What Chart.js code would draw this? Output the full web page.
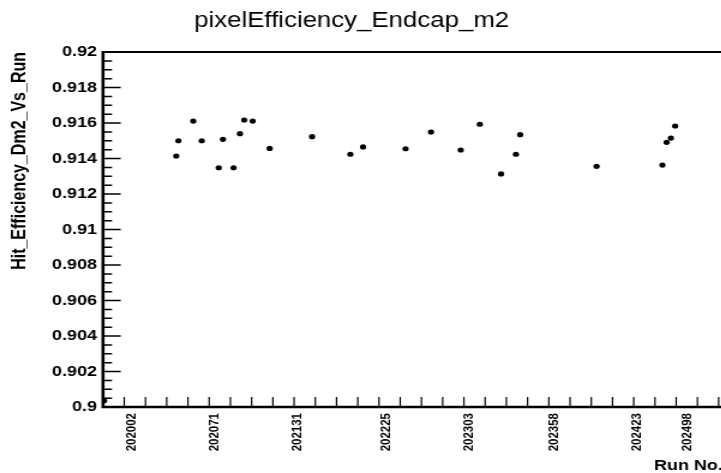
<!DOCTYPE html>
<html>
<head>
<meta charset="utf-8">
<script src="https://cdn.jsdelivr.net/npm/chart.js@4.4.0/dist/chart.umd.min.js"></script>
<style>
  html, body { margin: 0; padding: 0; background: #fff; overflow: hidden; width: 721px; height: 473px; }
  #wrap { position: absolute; left: 0; top: 0; width: 605px; height: 473px; transform: scaleX(1.2); transform-origin: 0 0; }
  canvas { display: block; }
</style>
</head>
<body>
<div id="wrap"><canvas id="c" width="605" height="473" style="width:605px;height:473px"></canvas></div>
<script>
// Run-number labels shown on the x axis and the bin each one belongs to
const runLabels = ['202002', '202071', '202131', '202225', '202303', '202358', '202423', '202498'];
const runLabelBins = [13, 52, 91, 133, 172, 212, 251, 275];

// Bin of each measured run and its hit efficiency
const binIndex = [0, 34, 35, 42, 46, 54, 56, 61, 64, 66, 70, 78, 98, 116, 122, 142, 154, 168, 177, 187, 194, 196, 232, 263, 265, 267, 269];
const efficiency = [0.90035, 0.91414, 0.9150, 0.91611, 0.9150, 0.91348, 0.91508, 0.91348, 0.9154, 0.91617, 0.91611,
                    0.91457, 0.91523, 0.91424, 0.91465, 0.91455, 0.91549, 0.91448, 0.91593, 0.91313, 0.91424,
                    0.91534, 0.91356, 0.91363, 0.91491, 0.91515, 0.91583];

// Labelled y-axis ticks
const yTickValues = [0.9, 0.902, 0.904, 0.906, 0.908, 0.91, 0.912, 0.914, 0.916, 0.918, 0.92];

const totalBins = 292;
const FONT = "'Liberation Sans', Arial, Helvetica, sans-serif";

const points = binIndex.map((b, i) => ({ x: b + 0.5, y: efficiency[i] }));

// ROOT-style frame with inward tick marks
const framePlugin = {
  id: 'frame',
  afterDraw(chart) {
    const { ctx, chartArea: a, scales } = chart;
    const xs = scales.x, ys = scales.y;
    ctx.save();
    ctx.strokeStyle = '#000';
    // x ticks every 10 bins
    ctx.lineWidth = 1.2;
    ctx.beginPath();
    for (let b = 10; b < totalBins; b += 10) {
      const px = xs.getPixelForValue(b);
      ctx.moveTo(px, a.bottom);
      ctx.lineTo(px, a.bottom - 10);
    }
    ctx.stroke();
    // y ticks: major at labels, minor every 0.0005
    ctx.lineWidth = 1.5;
    ctx.beginPath();
    for (let k = 0; k <= 40; k++) {
      const v = 0.9 + k * 0.0005;
      const py = ys.getPixelForValue(v);
      const len = (k % 4 === 0) ? 14.75 : 7.5;
      ctx.moveTo(a.left, py);
      ctx.lineTo(a.left + len, py);
    }
    ctx.stroke();
    // frame
    ctx.lineWidth = 2;
    ctx.beginPath();
    ctx.moveTo(a.left, a.top);
    ctx.lineTo(a.right, a.top);
    ctx.lineTo(a.right, a.bottom);
    ctx.stroke();
    ctx.lineWidth = 2.6;
    ctx.beginPath();
    ctx.moveTo(a.left, a.top - 1);
    ctx.lineTo(a.left, a.bottom);
    ctx.lineTo(a.right, a.bottom);
    ctx.stroke();
    ctx.restore();
  }
};

// Histogram title
const titlePlugin = {
  id: 'histTitle',
  afterDraw(chart) {
    const { ctx } = chart;
    ctx.save();
    ctx.fillStyle = '#000';
    ctx.font = `21.5px ${FONT}`;
    ctx.textAlign = 'center';
    ctx.textBaseline = 'alphabetic';
    ctx.fillText('pixelEfficiency_Endcap_m2', 293, 27);
    ctx.restore();
  }
};

new Chart(document.getElementById('c'), {
  type: 'scatter',
  data: {
    datasets: [{
      data: points,
      backgroundColor: '#000',
      borderColor: '#000',
      pointRadius: 2.6,
      pointHoverRadius: 2.6,
      borderWidth: 0
    }]
  },
  options: {
    responsive: false,
    animation: false,
    events: [],
    layout: { padding: { top: 52, left: 0, right: 1, bottom: 0 } },
    plugins: { legend: { display: false }, tooltip: { enabled: false }, title: { display: false } },
    scales: {
      x: {
        type: 'linear',
        min: 0,
        max: totalBins,
        grid: { display: false, drawTicks: false, tickLength: 0 },
        border: { display: false },
        afterBuildTicks(scale) { scale.ticks = runLabelBins.map(b => ({ value: b + 0.5 })); },
        afterFit(scale) { scale.height = 66; },
        ticks: {
          autoSkip: false,
          minRotation: 90,
          maxRotation: 90,
          padding: 6,
          color: '#000',
          font: { family: FONT, size: 11.5, weight: 'bold' },
          callback: (v, i) => runLabels[i]
        },
        title: {
          display: true,
          text: 'Run No.',
          align: 'end',
          color: '#000',
          font: { family: FONT, size: 15, weight: 'bold', lineHeight: 1 },
          padding: { top: 0, bottom: 0 }
        }
      },
      y: {
        min: 0.9,
        max: 0.92,
        grid: { display: false, drawTicks: false, tickLength: 0 },
        border: { display: false },
        afterBuildTicks(scale) { scale.ticks = yTickValues.map(v => ({ value: v })); },
        afterFit(scale) { scale.width = 85.83; },
        ticks: {
          padding: 5,
          color: '#000',
          font: { family: FONT, size: 15, weight: 'bold' },
          callback: v => String(parseFloat(Number(v).toFixed(4)))
        },
        title: {
          display: true,
          text: 'Hit_Efficiency_Dm2_Vs_Run',
          align: 'end',
          color: '#000',
          font: { family: FONT, size: 16, weight: 'bold', lineHeight: 1.2 },
          padding: { top: 7.4, bottom: 0 }
        }
      }
    }
  },
  plugins: [framePlugin, titlePlugin]
});
</script>
</body>
</html>
